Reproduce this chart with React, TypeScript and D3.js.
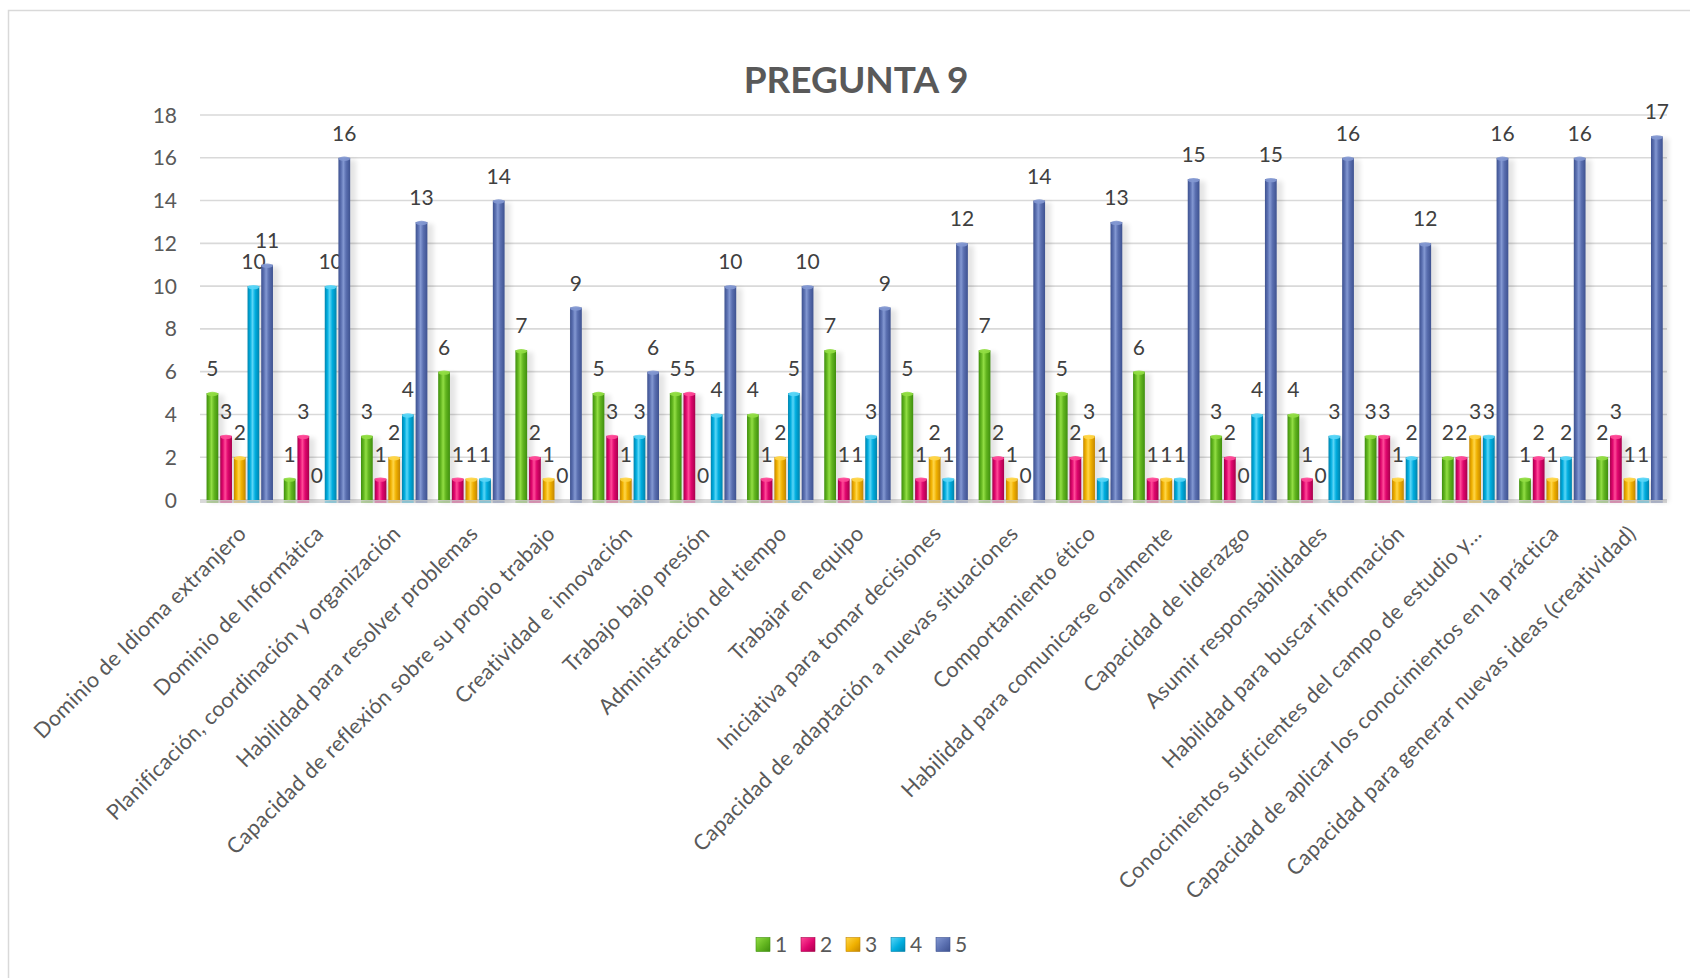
import React, { useEffect } from "react";
import * as d3 from "d3";

const categories: string[] = [
  "Dominio de Idioma extranjero",
  "Dominio de Informática",
  "Planificación, coordinación y organización",
  "Habilidad para resolver problemas",
  "Capacidad de reflexión sobre su propio trabajo",
  "Creatividad e innovación",
  "Trabajo bajo presión",
  "Administración del tiempo",
  "Trabajar en equipo",
  "Iniciativa para tomar decisiones",
  "Capacidad de adaptación a nuevas situaciones",
  "Comportamiento ético",
  "Habilidad para comunicarse oralmente",
  "Capacidad de liderazgo",
  "Asumir responsabilidades",
  "Habilidad para buscar información",
  "Conocimientos suficientes del campo de estudio y…",
  "Capacidad de aplicar los conocimientos en la práctica",
  "Capacidad para generar nuevas ideas (creatividad)",
];

const seriesNames: string[] = ["1", "2", "3", "4", "5"];

const serie1: number[] = [5, 1, 3, 6, 7, 5, 5, 4, 7, 5, 7, 5, 6, 3, 4, 3, 2, 1, 2];
const serie2: number[] = [3, 3, 1, 1, 2, 3, 5, 1, 1, 1, 2, 2, 1, 2, 1, 3, 2, 2, 3];
const serie3: number[] = [2, 0, 2, 1, 1, 1, 0, 2, 1, 2, 1, 3, 1, 0, 0, 1, 3, 1, 1];
const serie4: number[] = [10, 10, 4, 1, 0, 3, 4, 5, 3, 1, 0, 1, 1, 4, 3, 2, 3, 2, 1];
const serie5: number[] = [11, 16, 13, 14, 9, 6, 10, 10, 9, 12, 14, 13, 15, 15, 16, 12, 16, 16, 17];

const yTicks: number[] = [0, 2, 4, 6, 8, 10, 12, 14, 16, 18];

const title = "PREGUNTA 9";

const seriesValues = [serie1, serie2, serie3, serie4, serie5];

// colour palette: [edge dark, main, highlight]
const palette = [
  ["#3f8f0e", "#62b51f", "#92de44"],
  ["#a8004c", "#e0066e", "#ff4a98"],
  ["#c48600", "#f0b100", "#ffd648"],
  ["#0084ad", "#00addf", "#5ad6f7"],
  ["#3e5290", "#5a6fb0", "#8398d2"],
];

const W = 1690;
const H = 978;
const M = { left: 200, right: 1667, top: 115, bottom: 500 };
const FONT = "Lato, 'Open Sans', 'DejaVu Sans', sans-serif";

export default function App() {
  useEffect(() => {
    document.body.style.margin = "0";
  }, []);

  const x0 = d3.scaleBand<string>().domain(categories).range([M.left, M.right]).paddingInner(0).paddingOuter(0);
  const bw = x0.bandwidth();
  const x1 = d3
    .scaleBand<string>()
    .domain(seriesNames)
    .range([bw * 0.085, bw * 0.945])
    .paddingInner(0.14)
    .paddingOuter(0);
  const y = d3.scaleLinear().domain([0, 18]).range([M.bottom, M.top]);
  const barW = x1.bandwidth();

  const legendX0 = 756;
  const legendStep = 45;
  const legendY = 937.5;

  return (
    <div style={{ position: "absolute", left: 0, top: 0, width: W, height: H, background: "#fff" }}>
      <svg width={W} height={H} style={{ display: "block" }} fontFamily={FONT}>
        <defs>
          {palette.map((c, i) => (
            <linearGradient key={i} id={`g${i}`} x1="0" x2="1" y1="0" y2="0">
              <stop offset="0%" stopColor={c[0]} />
              <stop offset="22%" stopColor={c[1]} />
              <stop offset="42%" stopColor={c[2]} />
              <stop offset="65%" stopColor={c[1]} />
              <stop offset="100%" stopColor={c[0]} />
            </linearGradient>
          ))}
          {palette.map((c, i) => (
            <linearGradient key={`l${i}`} id={`lg${i}`} x1="0" x2="1" y1="0" y2="1">
              <stop offset="0%" stopColor={c[2]} />
              <stop offset="55%" stopColor={c[1]} />
              <stop offset="100%" stopColor={c[0]} />
            </linearGradient>
          ))}
          <filter id="shadow" x="-50%" y="-5%" width="200%" height="110%">
            <feGaussianBlur stdDeviation="2.5" />
          </filter>
        </defs>

        <rect x={0} y={0} width={W} height={H} fill="#ffffff" />
        {/* chart area border */}
        <rect x={8.5} y={10.5} width={W + 20} height={H + 20} fill="none" stroke="#d9d9d9" strokeWidth={1.5} />

        {/* title */}
        <text x={856} y={93} textAnchor="middle" fontSize={37} fontWeight={700} fill="#595959">
          {title}
        </text>

        {/* gridlines */}
        {yTicks.map((t) => (
          <line key={t} x1={M.left} x2={M.right} y1={y(t)} y2={y(t)} stroke="#d9d9d9" strokeWidth={1.6} />
        ))}
        {/* floor */}
        <rect x={M.left} y={M.bottom - 1} width={M.right - M.left} height={4} fill="#d9d9d9" />

        {/* y labels */}
        {yTicks.map((t) => (
          <text key={`yl${t}`} x={177} y={y(t) + 7.5} textAnchor="end" fontSize={21} fill="#595959">
            {t}
          </text>
        ))}

        {/* bars */}
        {categories.map((cat, ci) => (
          <g key={cat} transform={`translate(${x0(cat)},0)`}>
            {seriesNames.map((s, si) => {
              const v = seriesValues[si][ci];
              const bx = x1(s) as number;
              const top = y(v);
              const h = M.bottom - top;
              return (
                <g key={s}>
                  {v > 0 && (
                    <>
                      <rect x={bx + 3} y={top + 2} width={barW + 3} height={h} fill="#000" opacity={0.1} filter="url(#shadow)" />
                      <rect x={bx} y={top} width={barW} height={h} fill={`url(#g${si})`} />
                      <ellipse cx={bx + barW / 2} cy={top + 1} rx={barW / 2} ry={2.2} fill={palette[si][2]} opacity={0.9} />
                      <rect x={bx} y={M.bottom + 0.5} width={barW} height={2.5} fill={palette[si][1]} opacity={0.3} />
                    </>
                  )}
                  <text
                    x={bx + barW / 2}
                    y={top - 17}
                    textAnchor="middle"
                    fontSize={21}
                    fill="#404040"
                  >
                    {v}
                  </text>
                </g>
              );
            })}
          </g>
        ))}

        {/* category labels */}
        {categories.map((cat) => {
          const cx = (x0(cat) as number) + bw / 2 + 9;
          const cy = 535;
          return (
            <text
              key={`c${cat}`}
              transform={`translate(${cx},${cy}) rotate(-45)`}
              textAnchor="end"
              fontSize={21.5}
              letterSpacing={0.35}
              fill="#595959"
            >
              {cat}
            </text>
          );
        })}

        {/* legend */}
        {seriesNames.map((s, i) => (
          <g key={`lg${s}`} transform={`translate(${legendX0 + i * legendStep},${legendY})`}>
            <rect x={0} y={0} width={14} height={14} fill={`url(#lg${i})`} stroke={palette[i][0]} strokeWidth={0.6} />
            <text x={19} y={14} fontSize={21} fill="#595959">
              {s}
            </text>
          </g>
        ))}
      </svg>
    </div>
  );
}
